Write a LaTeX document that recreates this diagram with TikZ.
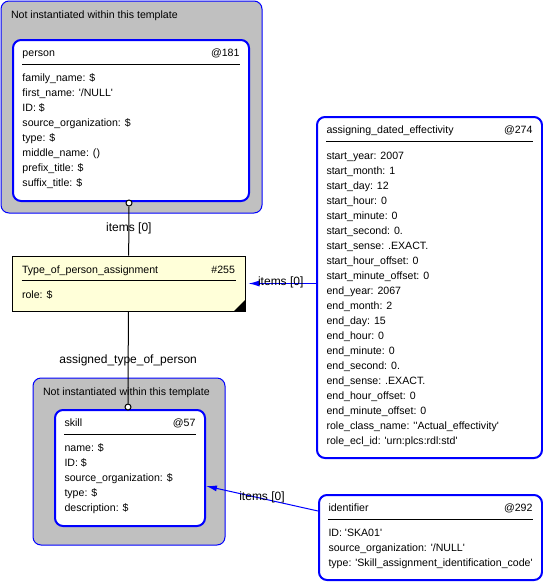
\documentclass[tikz,border=0pt]{standalone}
\usepackage{fontspec}
\setmainfont{Liberation Sans}
\usetikzlibrary{arrows.meta}
\definecolor{grpgrey}{HTML}{C0C0C0}
\definecolor{noteyellow}{HTML}{FFFFD9}
\newcommand{\apos}{\textquotesingle}
\tikzset{
  txt/.style={inner sep=0pt,text height=11.6pt,text depth=0pt},
  attr/.style={txt,anchor=west},
  ident/.style={txt,anchor=east},
  role/.style={txt,font=\fontsize{12pt}{14pt}\selectfont}
}
\begin{document}
\begin{tikzpicture}[x=1pt,y=-1pt,line width=1pt,font=\fontsize{10.6pt}{12pt}\selectfont]
        \useasboundingbox (0,0) rectangle (543,582);

        % groups
        \begin{scope}[every node/.style={draw=blue,fill=grpgrey,rounded corners=8pt,inner sep=0pt}]
          \node[minimum width=261pt,minimum height=212pt] (g1) at (131.5,107)   {};
          \node[minimum width=192pt,minimum height=167pt] (g2) at (129,461.5)   {};
        \end{scope}
        \node[attr] (g1-t) at ([shift={(10,12)}]g1.north west) {Not instantiated within this template};
        \node[attr] (g2-t) at ([shift={(10,12)}]g2.north west) {Not instantiated within this template};

        % entities
        \begin{scope}[every node/.style={draw=blue,line width=2pt,fill=white,rounded corners=8pt,inner sep=0pt}]
          \node[minimum width=236pt,minimum height=161pt] (181) at (131,120.5)   {};
          \node[minimum width=150pt,minimum height=116pt] (57)  at (130,468)     {};
          \node[minimum width=225pt,minimum height=341pt] (274) at (429.5,287.5) {};
          \node[minimum width=223pt,minimum height=85pt]  (292) at (430.5,537.5) {};
        \end{scope}
        \node[draw,fill=noteyellow,minimum width=233pt,minimum height=55pt,inner sep=0pt] (255) at (128.5,283.5) {};
        \fill (255.south east) -- ++(0,-12) -- ++(-12,12) -- cycle;

        % headers
        \foreach \n/\t/\i in {181/person/@181, 57/skill/@57, 255/Type\_of\_person\_assignment/\#255,
                              274/assigning\_dated\_effectivity/@274, 292/identifier/@292} {
          \node[attr]  (\n-t) at ([shift={(10,12)}]\n.north west)  {\t};
          \node[ident] (\n-i) at ([shift={(-10,12)}]\n.north east) {\i};
          \draw ([shift={(10,25)}]\n.north west) -- ([shift={(-10,25)}]\n.north east);
        }

        % attributes
        \foreach \a [count=\k from 0] in {family\_name: \$, first\_name: \apos/NULL\apos, ID: \$,
            source\_organization: \$, type: \$, middle\_name: (), prefix\_title: \$, suffix\_title: \$}
          \node[attr] (181-a\k) at ([shift={(10,37+15*\k)}]181.north west) {\a};
        \foreach \a [count=\k from 0] in {name: \$, ID: \$, source\_organization: \$, type: \$, description: \$}
          \node[attr] (57-a\k) at ([shift={(10,37+15*\k)}]57.north west) {\a};
        \node[attr] (255-a0) at ([shift={(10,37)}]255.north west) {role: \$};
        \foreach \a [count=\k from 0] in {start\_year: 2007, start\_month: 1, start\_day: 12, start\_hour: 0,
            start\_minute: 0, start\_second: 0., start\_sense: .EXACT., start\_hour\_offset: 0,
            start\_minute\_offset: 0, end\_year: 2067, end\_month: 2, end\_day: 15, end\_hour: 0,
            end\_minute: 0, end\_second: 0., end\_sense: .EXACT., end\_hour\_offset: 0,
            end\_minute\_offset: 0, role\_class\_name: \apos\apos Actual\_effectivity\apos,
            role\_ecl\_id: \apos urn:plcs:rdl:std\apos}
          \node[attr] (274-a\k) at ([shift={(10,38+15*\k)}]274.north west) {\a};
        \foreach \a [count=\k from 0] in {ID: \apos SKA01\apos, source\_organization: \apos/NULL\apos,
            type: \apos Skill\_assignment\_identification\_code\apos}
          \node[attr] (292-a\k) at ([shift={(10,37+15*\k)}]292.north west) {\a};

        % connectors
        \begin{scope}[every node/.style={circle,draw,fill=white,inner sep=0pt,minimum size=6pt}]
          \node (c1) at (129,203) {};
          \node (c2) at (128,407) {};
        \end{scope}
        \begin{scope}[every node/.style={role}]
          \path (c1) edge[draw] node[pos=0.4] (l1) {items [0]} (255);
          \path (255) edge[draw] node (l2) {assigned\_type\_of\_person} (c2);
          \path (274.west |- 255.east) edge[draw=blue,-{Latex[length=11pt,width=6pt]},shorten >=3pt]
                node[yshift=4pt] (l3) {items [0]} (255.east);
          \path ([yshift=-17pt]292.north west) edge[draw=blue,-{Latex[length=11pt,width=6pt]}]
                node[yshift=4pt] (l4) {items [0]} ([yshift=-18pt]57.east);
        \end{scope}

      \end{tikzpicture}
\end{document}
